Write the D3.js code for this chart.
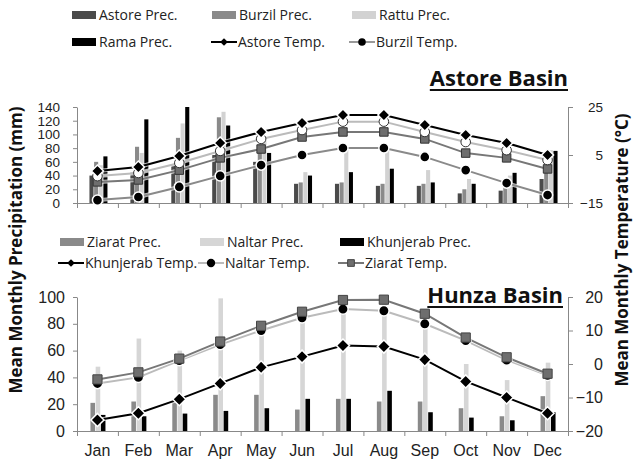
<!DOCTYPE html>
<html>
<head>
<meta charset="utf-8">
<script src="https://cdn.jsdelivr.net/npm/d3@7"></script>
<style>
  body { margin: 0; background: #fff; }
  svg { display: block; font-family: 'Open Sans', Lato, sans-serif; }
  .axis path, .axis line { stroke: #888; }
  .axis text { fill: #222; }
</style>
</head>
<body>
<script>
const months = ['Jan', 'Feb', 'Mar', 'Apr', 'May', 'Jun', 'Jul', 'Aug', 'Sep', 'Oct', 'Nov', 'Dec'];

// Astore basin - precipitation (mm)
const astorePrec = [40, 45, 55, 70, 60, 28, 28, 25, 25, 14, 18, 35];
const burzilPrec = [60, 82, 95, 125, 80, 30, 30, 28, 28, 20, 25, 45];
const rattuPrec = [55, 73, 116, 133, 90, 45, 80, 80, 48, 35, 40, 77];
const ramaPrec = [68, 122, 140, 113, 73, 40, 45, 50, 30, 28, 44, 76];
// Astore basin - temperature (°C)
const astoreTemp = [-1.7, 0, 4.6, 10, 14.6, 18.3, 21.7, 21.7, 17.5, 13.3, 10, 5];
const rattuTemp = [-3.8, -2.5, 1.7, 6.7, 11.7, 15.4, 18.9, 18.9, 14.6, 10.4, 7, 2.9];
const ramaTemp = [-6.2, -5.4, -1.3, 3.8, 7.5, 12.5, 14.6, 14.6, 11.7, 5.8, 3.8, -0.8];
const burzilTemp = [-13.8, -12.5, -8.3, -3.7, 0.8, 5, 7.9, 7.9, 4.2, -1.3, -6.7, -11.7];

// Hunza basin - precipitation (mm)
const ziaratPrec = [21, 22, 22, 27, 27, 16, 24, 22, 22, 17, 11, 26];
const naltarPrec = [48, 69, 60, 99, 78, 87, 98, 98, 86, 50, 38, 51];
const khunjerabPrec = [12, 11, 13, 15, 17, 24, 24, 30, 14, 10, 8, 14];
// Hunza basin - temperature (°C)
const khunjerabTemp = [-16.7, -14.7, -10.5, -5.8, -1, 2.2, 5.5, 5.2, 1.3, -5.2, -10, -14.7];
const naltarTemp = [-5.8, -4, 1, 5.8, 10, 13.8, 16.4, 15.9, 12, 7, 1.2, -3.4];
const ziaratTemp = [-4.6, -2.5, 1.6, 6.7, 11.4, 15.6, 19.1, 19.2, 15, 7.9, 2, -2.9];

const topPrecTicks = [0, 20, 40, 60, 80, 100, 120, 140];
const topTempTicks = [-15, 5, 25];
const botPrecTicks = [0, 20, 40, 60, 80, 100];
const botTempTicks = [-20, -10, 0, 10, 20];

const W = 636, H = 468;
const svg = d3.select('body').append('svg').attr('width', W).attr('height', H);

const x = d3.scaleBand().domain(months).range([77, 568]);
const xEdge = d3.scaleLinear().domain([0, 12]).range([77, 568]);

// square diamond (Excel style) instead of d3's tall diamond
const squareDiamond = {
  draw(ctx, size) {
    const r = Math.sqrt(size / 2);
    ctx.moveTo(0, -r); ctx.lineTo(r, 0); ctx.lineTo(0, r); ctx.lineTo(-r, 0); ctx.closePath();
  }
};
const symbols = {
  diamond: d3.symbol().type(squareDiamond),
  circle: d3.symbol().type(d3.symbolCircle),
  square: d3.symbol().type(d3.symbolSquare)
};

function drawPanel(cfg) {
  const yP = d3.scaleLinear().domain(cfg.precDomain).range([cfg.bottom, cfg.top]);
  const yT = d3.scaleLinear().domain(cfg.tempDomain).range([cfg.bottom, cfg.top]);
  const g = svg.append('g');

  // bars
  const inner = d3.scaleBand().domain(cfg.bars.map(b => b.name)).range(cfg.barRange).paddingInner(0.12);
  cfg.bars.forEach(b => {
    g.append('g').selectAll('rect')
      .data(b.values)
      .join('rect')
      .attr('x', (d, i) => x(months[i]) + x.bandwidth() / 2 + inner(b.name))
      .attr('width', inner.bandwidth())
      .attr('y', d => yP(d))
      .attr('height', d => yP(0) - yP(d))
      .attr('fill', b.color);
  });

  // left axis
  const la = g.append('g').attr('class', 'axis')
    .attr('transform', `translate(77,0)`)
    .call(d3.axisLeft(yP).tickValues(cfg.precTicks).tickSize(4).tickPadding(cfg.leftPad).tickSizeOuter(0));
  la.selectAll('text').style('font-size', cfg.tickFont + 'px');

  // right axis
  const ra = g.append('g').attr('class', 'axis')
    .attr('transform', `translate(568,0)`)
    .call(d3.axisRight(yT).tickValues(cfg.tempTicks).tickSize(5).tickSizeOuter(0));
  ra.selectAll('text').style('font-size', cfg.tickFont + 'px').attr('x', 35).attr('text-anchor', 'end');

  // bottom axis with category boundary ticks
  g.append('g').attr('class', 'axis')
    .attr('transform', `translate(0,${cfg.bottom})`)
    .call(d3.axisBottom(xEdge).ticks(12).tickSize(5).tickFormat('').tickSizeOuter(0));
  if (cfg.showMonths) {
    const ma = g.append('g').attr('class', 'axis')
      .attr('transform', `translate(0,${cfg.bottom})`)
      .call(d3.axisBottom(x).tickSize(0).tickPadding(14));
    ma.select('.domain').remove();
    ma.selectAll('text').style('font-size', '16px');
  }

  // lines and markers
  cfg.lines.forEach(s => {
    const line = d3.line().x((d, i) => x(months[i]) + x.bandwidth() / 2).y(d => yT(d));
    g.append('path').datum(s.values)
      .attr('fill', 'none').attr('stroke', '#fff').attr('stroke-width', 4).attr('opacity', 0.7)
      .attr('d', line);
    g.append('path').datum(s.values)
      .attr('fill', 'none').attr('stroke', s.line).attr('stroke-width', 2)
      .attr('d', line);
  });
  cfg.lines.forEach(s => {
    g.append('g').selectAll('path')
      .data(s.values)
      .join('path')
      .attr('transform', (d, i) => `translate(${x(months[i]) + x.bandwidth() / 2},${yT(d)})`)
      .attr('d', symbols[s.shape].size(s.size)())
      .attr('fill', s.fill)
      .attr('stroke', s.stroke)
      .attr('stroke-width', s.sw || 1);
  });

  // basin title
  const t = g.append('text')
    .attr('x', cfg.titleX).attr('y', cfg.titleY)
    .attr('text-anchor', 'end')
    .style('font-size', '22px').style('font-weight', 700).style('fill', '#111')
    .text(cfg.title);
  const tw = t.node().getComputedTextLength();
  g.append('line')
    .attr('x1', cfg.titleX - tw).attr('x2', cfg.titleX)
    .attr('y1', cfg.titleY + 4).attr('y2', cfg.titleY + 4)
    .attr('stroke', '#111').attr('stroke-width', 2);
}

drawPanel({
  top: 107, bottom: 203,
  precDomain: [0, 140], tempDomain: [-15, 25],
  precTicks: topPrecTicks, tempTicks: topTempTicks,
  tickFont: 13.5, leftPad: 13, showMonths: false,
  barRange: [-8, 10],
  bars: [
    { name: 'Astore Prec.', values: astorePrec, color: '#4a4a4a' },
    { name: 'Burzil Prec.', values: burzilPrec, color: '#8a8a8a' },
    { name: 'Rattu Prec.', values: rattuPrec, color: '#d2d2d2' },
    { name: 'Rama Prec.', values: ramaPrec, color: '#000' }
  ],
  lines: [
    { values: burzilTemp, line: '#8a8a8a', shape: 'circle', size: 80, fill: '#000', stroke: '#fff', sw: 1.5 },
    { values: ramaTemp, line: '#777', shape: 'square', size: 72, fill: '#6e6e6e', stroke: '#333', sw: 1 },
    { values: rattuTemp, line: '#bbb', shape: 'circle', size: 72, fill: '#fff', stroke: '#333', sw: 1 },
    { values: astoreTemp, line: '#000', shape: 'diamond', size: 72, fill: '#000', stroke: '#fff', sw: 1.5 }
  ],
  title: 'Astore Basin', titleX: 568, titleY: 86
});

drawPanel({
  top: 297, bottom: 431,
  precDomain: [0, 100], tempDomain: [-20, 20],
  precTicks: botPrecTicks, tempTicks: botTempTicks,
  tickFont: 16, leftPad: 8, showMonths: true,
  barRange: [-7, 8],
  bars: [
    { name: 'Ziarat Prec.', values: ziaratPrec, color: '#8a8a8a' },
    { name: 'Naltar Prec.', values: naltarPrec, color: '#d6d6d6' },
    { name: 'Khunjerab Prec.', values: khunjerabPrec, color: '#000' }
  ],
  lines: [
    { values: khunjerabTemp, line: '#000', shape: 'diamond', size: 85, fill: '#000', stroke: '#fff', sw: 1.5 },
    { values: naltarTemp, line: '#bbb', shape: 'circle', size: 85, fill: '#000', stroke: '#fff', sw: 1.5 },
    { values: ziaratTemp, line: '#777', shape: 'square', size: 85, fill: '#6e6e6e', stroke: '#444', sw: 1 }
  ],
  title: 'Hunza Basin', titleX: 563, titleY: 303
});

// legends
function legend(items) {
  items.forEach(it => {
    const g = svg.append('g').attr('transform', `translate(${it.x},${it.y})`);
    if (it.type === 'bar') {
      g.append('rect').attr('x', 0).attr('y', -4).attr('width', 24).attr('height', 8).attr('fill', it.color);
    } else {
      g.append('line').attr('x1', 0).attr('x2', 26).attr('y1', 0).attr('y2', 0)
        .attr('stroke', it.color).attr('stroke-width', 2);
      g.append('path').attr('transform', 'translate(13,0)')
        .attr('d', symbols[it.shape].size(it.size)())
        .attr('fill', it.fill).attr('stroke', it.stroke || 'none');
    }
    g.append('text').attr('x', 27).attr('y', 5)
      .style('font-size', '14px').style('fill', '#222')
      .text(it.label);
  });
}

legend([
  { type: 'bar', x: 72, y: 15, color: '#4a4a4a', label: 'Astore Prec.' },
  { type: 'bar', x: 212, y: 15, color: '#8a8a8a', label: 'Burzil Prec.' },
  { type: 'bar', x: 352, y: 15, color: '#d2d2d2', label: 'Rattu Prec.' },
  { type: 'bar', x: 72, y: 42, color: '#000', label: 'Rama Prec.' },
  { type: 'line', x: 211, y: 42, color: '#000', shape: 'diamond', size: 30, fill: '#000', label: 'Astore Temp.' },
  { type: 'line', x: 349, y: 42, color: '#999', shape: 'circle', size: 45, fill: '#000', label: 'Burzil Temp.' },
  { type: 'bar', x: 60, y: 242, color: '#8a8a8a', label: 'Ziarat Prec.' },
  { type: 'bar', x: 200, y: 242, color: '#d6d6d6', label: 'Naltar Prec.' },
  { type: 'bar', x: 340, y: 242, color: '#000', label: 'Khunjerab Prec.' },
  { type: 'line', x: 58, y: 263, color: '#000', shape: 'diamond', size: 30, fill: '#000', label: 'Khunjerab Temp.' },
  { type: 'line', x: 198, y: 263, color: '#bbb', shape: 'circle', size: 55, fill: '#000', label: 'Naltar Temp.' },
  { type: 'line', x: 338, y: 263, color: '#777', shape: 'square', size: 45, fill: '#6e6e6e', stroke: '#444', label: 'Ziarat Temp.' }
]);

// axis titles
svg.append('text')
  .attr('transform', 'translate(22,250) rotate(-90)')
  .attr('text-anchor', 'middle')
  .style('font-size', '17px').style('font-weight', 700).style('fill', '#111')
  .text('Mean Monthly Precipitation (mm)');
svg.append('text')
  .attr('transform', 'translate(628,250) rotate(-90)')
  .attr('text-anchor', 'middle')
  .style('font-size', '17px').style('font-weight', 700).style('fill', '#111')
  .text('Mean Monthly Temperature (°C)');
</script>
</body>
</html>
